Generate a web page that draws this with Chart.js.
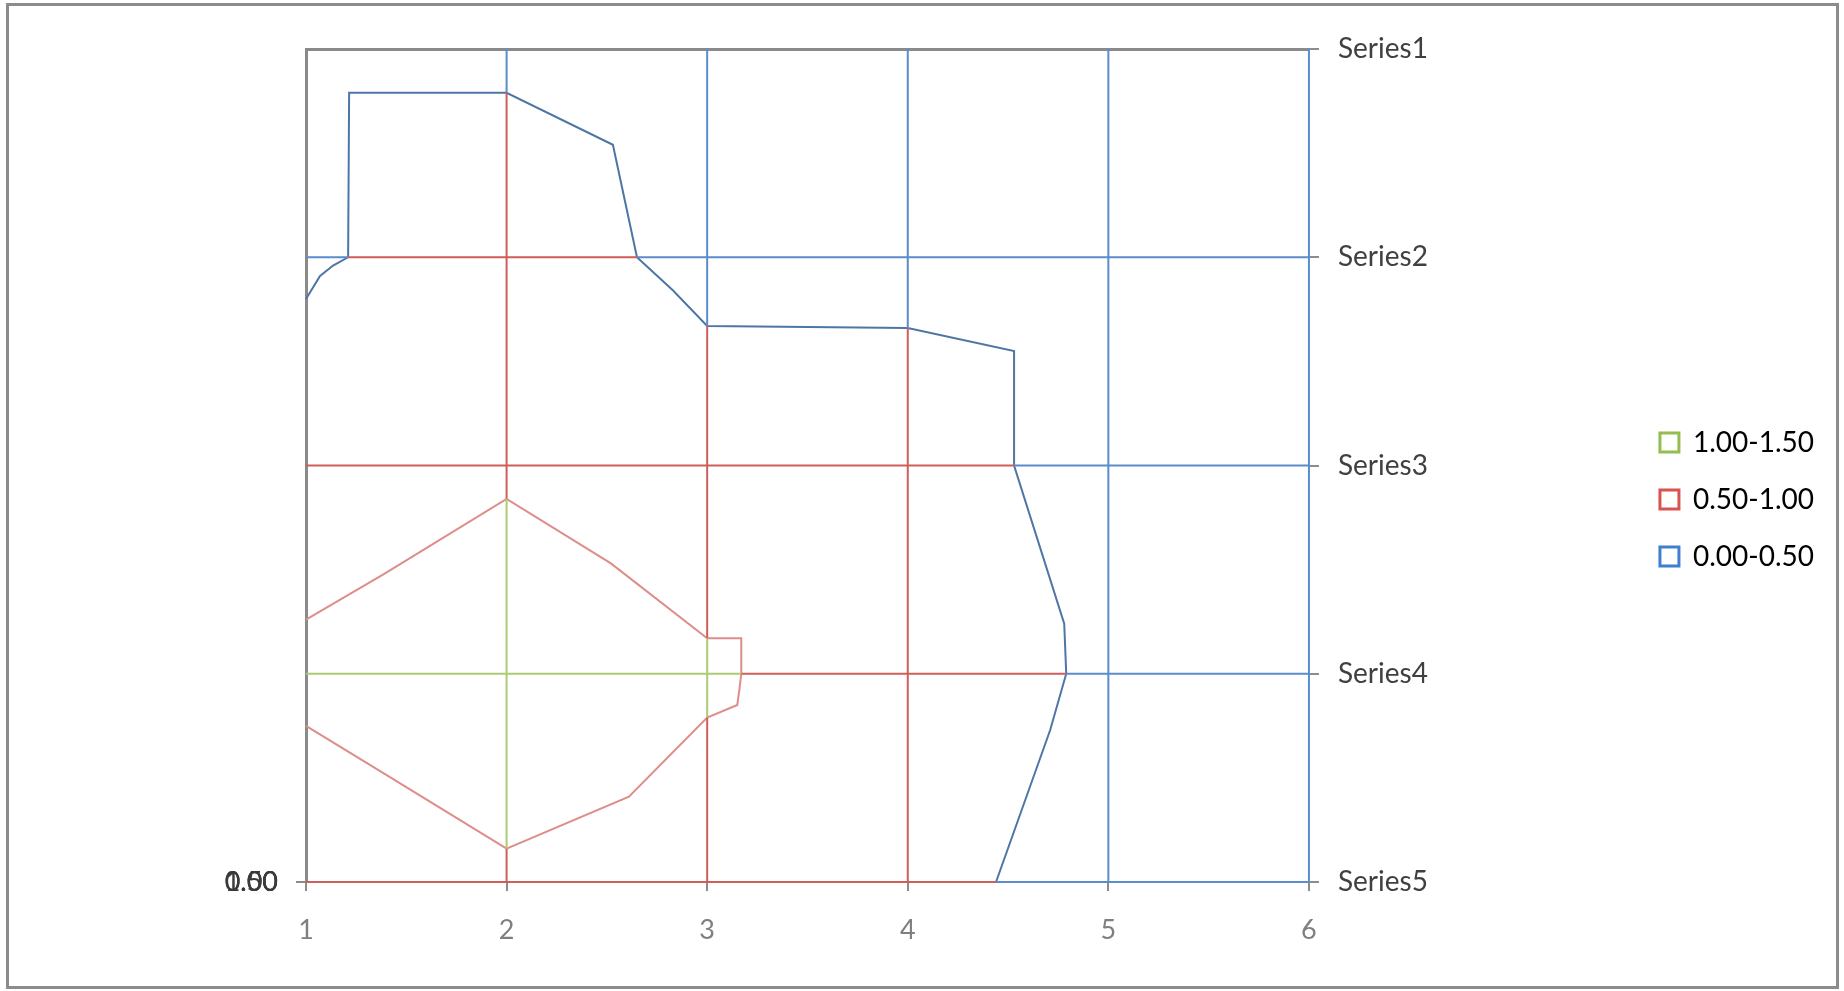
<!DOCTYPE html>
<html>
<head>
<meta charset="utf-8">
<title>Contour chart</title>
<script src="https://cdn.jsdelivr.net/npm/chart.js@4.4.1/dist/chart.umd.min.js"></script>
<style>
  html, body { margin: 0; padding: 0; background: #fff; }
  #wrap { position: absolute; left: 0; top: 0; width: 1844px; height: 991px; }
  #frame {
    position: absolute; left: 6px; top: 3px; width: 1833px; height: 986px;
    box-sizing: border-box; border: 3px solid #8c8c8c; pointer-events: none;
  }
</style>
</head>
<body>
<div id="wrap"><canvas id="myChartContour" width="1844" height="991"></canvas></div>
<div id="frame"></div>
<script>
// categories / ticks
const seriesNames = ['Series1', 'Series2', 'Series3', 'Series4', 'Series5'];
const xTicks = [1, 2, 3, 4, 5, 6];
const bandLabels = ['1.00-1.50', '0.50-1.00', '0.00-0.50'];
const levelLabels = ['0.00', '0.50', '1.00'];

// contour at 0.50 (blue)
const contour050X = [1, 1.07, 1.135, 1.21, 1.215, 2, 2.53, 2.65, 2.83, 3, 4, 4.53, 4.53, 4.78, 4.79, 4.71, 4.44];
const contour050Y = [2.80, 2.91, 2.96, 3.0, 3.79, 3.79, 3.54, 3.0, 2.84, 2.67, 2.66, 2.55, 2.0, 1.24, 1.0, 0.73, 0];

// contour at 1.00 (red)
const contour100X = [1, 1.39, 2, 2.52, 3, 3.17, 3.17, 3.16, 3.15, 3, 2.61, 2, 1.39, 1];
const contour100Y = [1.26, 1.48, 1.84, 1.53, 1.17, 1.17, 1.0, 0.92, 0.85, 0.79, 0.41, 0.16, 0.52, 0.75];

// wireframe rows [y, xFrom, xTo] and columns [x, yFrom, yTo] per band
const blueRows = [[3, 1, 1.21], [3, 2.65, 6], [2, 4.53, 6], [1, 4.79, 6], [0, 4.44, 6]];
const redRows = [[3, 1.21, 2.65], [2, 1, 4.53], [1, 3.17, 4.79], [0, 1, 4.44]];
const greenRows = [[1, 1, 3.17]];
const blueCols = [[2, 3.79, 4], [3, 2.67, 4], [4, 2.66, 4], [5, 0, 4], [6, 0, 4]];
const redCols = [[2, 1.84, 3.79], [2, 0, 0.16], [3, 1.17, 2.67], [3, 0, 0.79], [4, 0, 2.66]];
const greenCols = [[2, 0.16, 1.84], [3, 0.79, 1.17]];

const legendColors = ['#93bd4c', '#d9534f', '#3f7fd0'];

// helpers
function toPoints(xs, ys) {
	return xs.map((x, i) => ({ x: x, y: ys[i] }));
}

function wire(rows, cols) {
	const pts = [];
	rows.forEach(r => {
		pts.push({ x: r[1], y: r[0] }, { x: r[2], y: r[0] }, { x: r[2], y: null });
	});
	cols.forEach(c => {
		pts.push({ x: c[0], y: c[1] }, { x: c[0], y: c[2] }, { x: c[0], y: null });
	});
	return pts;
}

function lineSet(label, pts, color) {
	return {
		label: label,
		data: pts,
		showLine: true,
		spanGaps: false,
		clip: 4,
		borderColor: color,
		borderWidth: 2,
		pointRadius: 0,
		tension: 0,
		fill: false
	};
}

const data = {
	datasets: [
		lineSet('green grid', wire(greenRows, greenCols), '#abcc72'),
		lineSet('red grid', wire(redRows, redCols), '#cf5e5a'),
		lineSet('blue grid', wire(blueRows, blueCols), '#5b8ccb'),
		lineSet('1.00', toPoints(contour100X, contour100Y), '#de8d89'),
		lineSet('0.50', toPoints(contour050X, contour050Y), '#4d76a5')
	]
};

const fontFamily = 'Lato, "Open Sans", sans-serif';

const config = {
	type: 'scatter',
	data: data,
	options: {
		responsive: false,
		animation: false,
		layout: {
			padding: { left: 0, top: 8, bottom: 0, right: 20 }
		},
		scales: {
			x: {
				type: 'linear',
				position: 'bottom',
				min: 1,
				max: 6,
				afterBuildTicks: scale => {
					scale.ticks = xTicks.map(v => ({ value: v }));
				},
				afterFit: scale => { scale.height = 109; },
				ticks: {
					color: '#7f7f7f',
					font: { family: fontFamily, size: 27 },
					padding: 23
				},
				grid: {
					drawOnChartArea: false,
					tickLength: 9,
					color: '#8c8c8c',
					lineWidth: 2
				},
				border: { display: false }
			},
			xTop: {
				type: 'linear',
				position: 'top',
				min: 1,
				max: 6,
				afterFit: scale => { scale.height = 41; },
				ticks: { display: false },
				grid: { display: false },
				border: { display: true, color: '#8a8a8a', width: 3 }
			},
			y: {
				type: 'linear',
				position: 'right',
				min: 0,
				max: 4,
				afterBuildTicks: scale => {
					scale.ticks = seriesNames.map((n, i) => ({ value: 4 - i }));
				},
				afterFit: scale => { scale.width = 322; },
				ticks: {
					color: '#404040',
					font: { family: fontFamily, size: 28 },
					padding: 19,
					callback: v => seriesNames[4 - v]
				},
				grid: {
					drawOnChartArea: false,
					tickLength: 10,
					color: '#8c8c8c',
					lineWidth: 2
				},
				border: { display: false }
			},
			yLeft: {
				type: 'linear',
				position: 'left',
				min: 0,
				max: 4,
				afterBuildTicks: scale => {
					scale.ticks = levelLabels.map(() => ({ value: 0 }));
				},
				afterFit: scale => { scale.width = 306; },
				ticks: {
					autoSkip: false,
					color: '#3a3a3a',
					font: { family: fontFamily, size: 27 },
					padding: 18,
					callback: (v, i) => levelLabels[i]
				},
				grid: {
					drawOnChartArea: false,
					tickLength: 10,
					color: '#8c8c8c',
					lineWidth: 2
				},
				border: { display: true, color: '#8a8a8a', width: 3 }
			}
		},
		plugins: {
			legend: {
				display: true,
				position: 'right',
				onClick: null,
				labels: {
					boxWidth: 19,
					boxHeight: 19,
					padding: 29,
					color: '#333333',
					font: { family: fontFamily, size: 28 },
					generateLabels: () => bandLabels.map((t, i) => ({
						text: t,
						fillStyle: '#ffffff',
						strokeStyle: legendColors[i],
						lineWidth: 3,
						hidden: false,
						datasetIndex: i
					}))
				}
			},
			tooltip: { enabled: false }
		}
	}
};

document.addEventListener('DOMContentLoaded', () => {
	const ctx = document.getElementById('myChartContour').getContext('2d');
	new Chart(ctx, config);
});
</script>
</body>
</html>
